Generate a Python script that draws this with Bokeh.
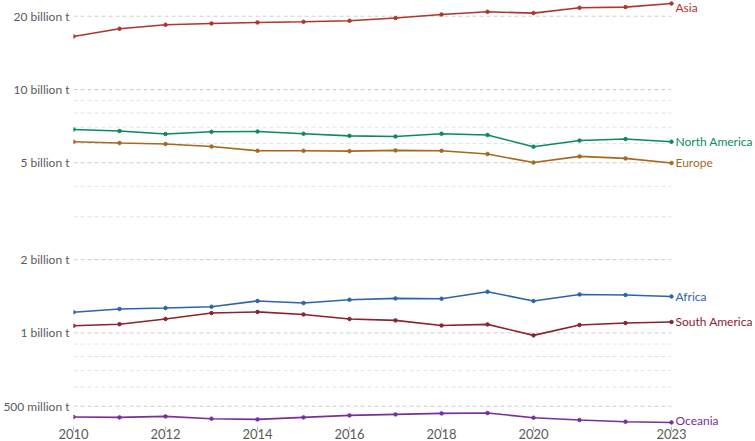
from bokeh.plotting import figure
from bokeh.models import Range1d, FixedTicker, Label, ColumnDataSource
from bokeh.embed import file_html
from bokeh.resources import INLINE

# Annual values by region, in billion tonnes
years = list(range(2010, 2024))
asia = [16.51, 17.76, 18.44, 18.67, 18.85, 18.97, 19.15, 19.65, 20.32, 20.85, 20.59, 21.65, 21.80, 22.55]
north_america = [6.85, 6.75, 6.56, 6.70, 6.72, 6.58, 6.45, 6.41, 6.58, 6.50, 5.82, 6.17, 6.26, 6.10]
europe = [6.10, 6.03, 5.97, 5.83, 5.60, 5.60, 5.58, 5.62, 5.60, 5.43, 5.01, 5.31, 5.21, 4.99]
africa = [1.216, 1.254, 1.266, 1.281, 1.353, 1.327, 1.369, 1.386, 1.382, 1.476, 1.352, 1.439, 1.431, 1.412]
south_america = [1.070, 1.086, 1.141, 1.207, 1.220, 1.191, 1.141, 1.126, 1.073, 1.084, 0.977, 1.078, 1.098, 1.109]
oceania = [0.4515, 0.4498, 0.4541, 0.4443, 0.4414, 0.4498, 0.4584, 0.4627, 0.4671, 0.4688, 0.4485, 0.4388, 0.4318, 0.4289]

regions = ["Asia", "North America", "Europe", "Africa", "South America", "Oceania"]
region_values = [asia, north_america, europe, africa, south_america, oceania]
region_colors = ["#B0352B", "#0B8A62", "#A5691E", "#2C64AB", "#8A2232", "#7A2E9B"]
label_shift = [-4, 0, 0, 0, 0, 2]

# Axis ticks
x_ticks = [2010, 2012, 2014, 2016, 2018, 2020, 2023]
y_ticks = [5e8, 1e9, 2e9, 5e9, 1e10, 2e10]
y_tick_labels = ["500 million t", "1 billion t", "2 billion t", "5 billion t", "10 billion t", "20 billion t"]
y_minor = [6e8, 7e8, 8e8, 9e8, 3e9, 4e9, 6e9, 7e9, 8e9, 9e9]

FONT = "Lato"
LEFT = 73          # width reserved for the y-axis labels
PX_PER_YEAR = 46   # horizontal scale
WIDTH = 755
# the frame runs to the right edge so the end labels have room; the range
# is widened to keep the same horizontal scale
x_end = years[0] + (WIDTH - LEFT) / PX_PER_YEAR

p = figure(
    width=WIDTH, height=441,
    output_backend="svg", toolbar_location=None,
    y_axis_type="log",
    x_range=Range1d(years[0], x_end),
    y_range=Range1d(4.127e8, 2.32e10),
    min_border_left=LEFT, min_border_right=0,
    min_border_top=0, min_border_bottom=0,
)
p.outline_line_color = None
p.background_fill_color = "white"
p.border_fill_color = "white"

# x axis
p.xaxis.ticker = FixedTicker(ticks=x_ticks)
p.xaxis.axis_line_color = None
p.xaxis.major_tick_in = 0
p.xaxis.major_tick_out = 4
p.xaxis.minor_tick_in = 0
p.xaxis.minor_tick_out = 0
p.xaxis.major_tick_line_color = "#b5b5b5"
p.xaxis.minor_tick_line_color = None
p.xaxis.major_label_standoff = -2
p.xaxis.major_label_text_font = FONT
p.xaxis.major_label_text_font_size = "13px"
p.xaxis.major_label_text_color = "#5b5b5b"
p.xgrid.grid_line_color = None

# y axis (log), labels only
p.yaxis.ticker = FixedTicker(ticks=y_ticks, minor_ticks=y_minor)
p.yaxis.major_label_overrides = {v: t for v, t in zip(y_ticks, y_tick_labels)}
p.yaxis.axis_line_color = None
p.yaxis.major_tick_in = 0
p.yaxis.major_tick_out = 0
p.yaxis.minor_tick_in = 0
p.yaxis.minor_tick_out = 0
p.yaxis.major_tick_line_color = None
p.yaxis.minor_tick_line_color = None
p.yaxis.major_label_standoff = 4
p.yaxis.major_label_text_font = FONT
p.yaxis.major_label_text_font_size = "12px"
p.yaxis.major_label_text_color = "#5b5b5b"

# dashed horizontal gridlines that stop at the last year
p.ygrid.grid_line_color = None
p.segment(x0=[years[0]] * len(y_minor), x1=[years[-1]] * len(y_minor),
          y0=y_minor, y1=y_minor,
          line_color="#e3e3e3", line_width=1, line_dash="4 3")
p.segment(x0=[years[0]] * len(y_ticks), x1=[years[-1]] * len(y_ticks),
          y0=y_ticks, y1=y_ticks,
          line_color="#cdcdcd", line_width=1, line_dash="4 3")

for name, vals, color, dy in zip(regions, region_values, region_colors, label_shift):
    src = ColumnDataSource(dict(year=years, value=[v * 1e9 for v in vals]))
    p.line("year", "value", source=src, line_color=color, line_width=1.6)
    p.scatter("year", "value", source=src, size=3.5, fill_color=color, line_color=color)
    p.add_layout(Label(
        x=years[-1], y=vals[-1] * 1e9, text=name,
        x_offset=4, y_offset=dy,
        text_baseline="middle", text_align="left",
        text_color=color, text_font=FONT, text_font_size="12px",
    ))

open("out.html", "w").write(file_html(p, INLINE))
